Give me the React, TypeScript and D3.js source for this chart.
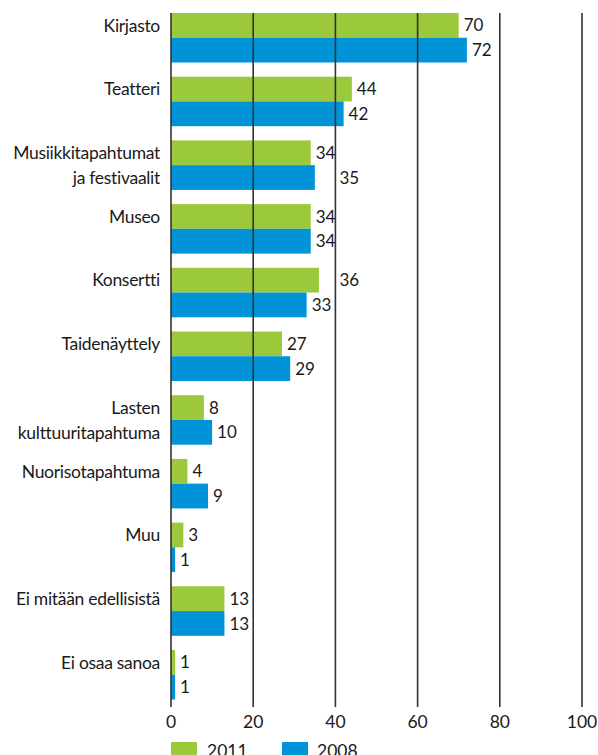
import React from "react";
import * as d3 from "d3";

const categories: string[][] = [
  ["Kirjasto"],
  ["Teatteri"],
  ["Musiikkitapahtumat", "ja festivaalit"],
  ["Museo"],
  ["Konsertti"],
  ["Taidenäyttely"],
  ["Lasten", "kulttuuritapahtuma"],
  ["Nuorisotapahtuma"],
  ["Muu"],
  ["Ei mitään edellisistä"],
  ["Ei osaa sanoa"],
];
const values2011 = [70, 44, 34, 34, 36, 27, 8, 4, 3, 13, 1];
const values2008 = [72, 42, 35, 34, 33, 29, 10, 9, 1, 13, 1];
const xTicks = [0, 20, 40, 60, 80, 100];
const seriesNames = ["2011", "2008"];

const W = 598;
const H = 755;
const GREEN = "#9cc83c";
const BLUE = "#0093d7";
const FONT = "Lato, 'Open Sans', sans-serif";

export default function App() {
  const x = d3.scaleLinear().domain([0, 100]).range([171, 582]);
  const idx = categories.map((_, i) => String(i));
  const y = d3.scaleBand<string>().domain(idx).range([13, 699.5]).paddingInner(0.223).paddingOuter(0);
  const bh = y.bandwidth() / 2;
  const gridTop = 13;
  const gridBottom = 707;
  const digitW = 9;

  const labelX = (v: number) => {
    let lx = x(v) + 5;
    const w = String(v).length * digitW;
    for (const t of xTicks) {
      const gx = x(t);
      if (t > 0 && lx < gx && lx + w > gx - 1) lx = gx + 4;
    }
    return lx;
  };

  return (
    <svg
      width={W}
      height={H}
      style={{ position: "absolute", left: 0, top: 0, fontVariantLigatures: "none" }}
      fontFamily={FONT}
    >
      {categories.map((lines, i) => {
        const y0 = y(String(i)) as number;
        return (
          <g key={i}>
            <rect x={x(0)} y={y0} width={x(values2011[i]) - x(0)} height={bh} fill={GREEN} />
            <rect x={x(0)} y={y0 + bh} width={x(values2008[i]) - x(0)} height={bh} fill={BLUE} />
            {lines.map((ln, j) => (
              <text
                key={j}
                x={160}
                y={y0 + bh / 2 + j * bh}
                dy="0.36em"
                textAnchor="end"
                fontSize={17.5}
                letterSpacing={-0.3}
                fill="#1a1a1a"
              >
                {ln}
              </text>
            ))}
          </g>
        );
      })}
      {xTicks.map((t) => (
        <line key={t} x1={x(t)} x2={x(t)} y1={gridTop} y2={gridBottom} stroke="#333" strokeWidth={1.6} />
      ))}
      {categories.map((_, i) => {
        const y0 = y(String(i)) as number;
        return (
          <g key={"v" + i} fontSize={17} fill="#1a1a1a">
            <text x={labelX(values2011[i])} y={y0 + bh / 2} dy="0.36em">{values2011[i]}</text>
            <text x={labelX(values2008[i])} y={y0 + bh * 1.5} dy="0.36em">{values2008[i]}</text>
          </g>
        );
      })}
      {xTicks.map((t) => (
        <text key={"t" + t} x={x(t)} y={722} dy="0.36em" textAnchor="middle" fontSize={17.5} fill="#1a1a1a">
          {t}
        </text>
      ))}
      <g>
        <rect x={171} y={742} width={26} height={16} fill={GREEN} />
        <text x={207} y={751} dy="0.36em" fontSize={17.5} fill="#1a1a1a">{seriesNames[0]}</text>
        <rect x={282} y={742} width={26} height={16} fill={BLUE} />
        <text x={317} y={751} dy="0.36em" fontSize={17.5} fill="#1a1a1a">{seriesNames[1]}</text>
      </g>
    </svg>
  );
}
